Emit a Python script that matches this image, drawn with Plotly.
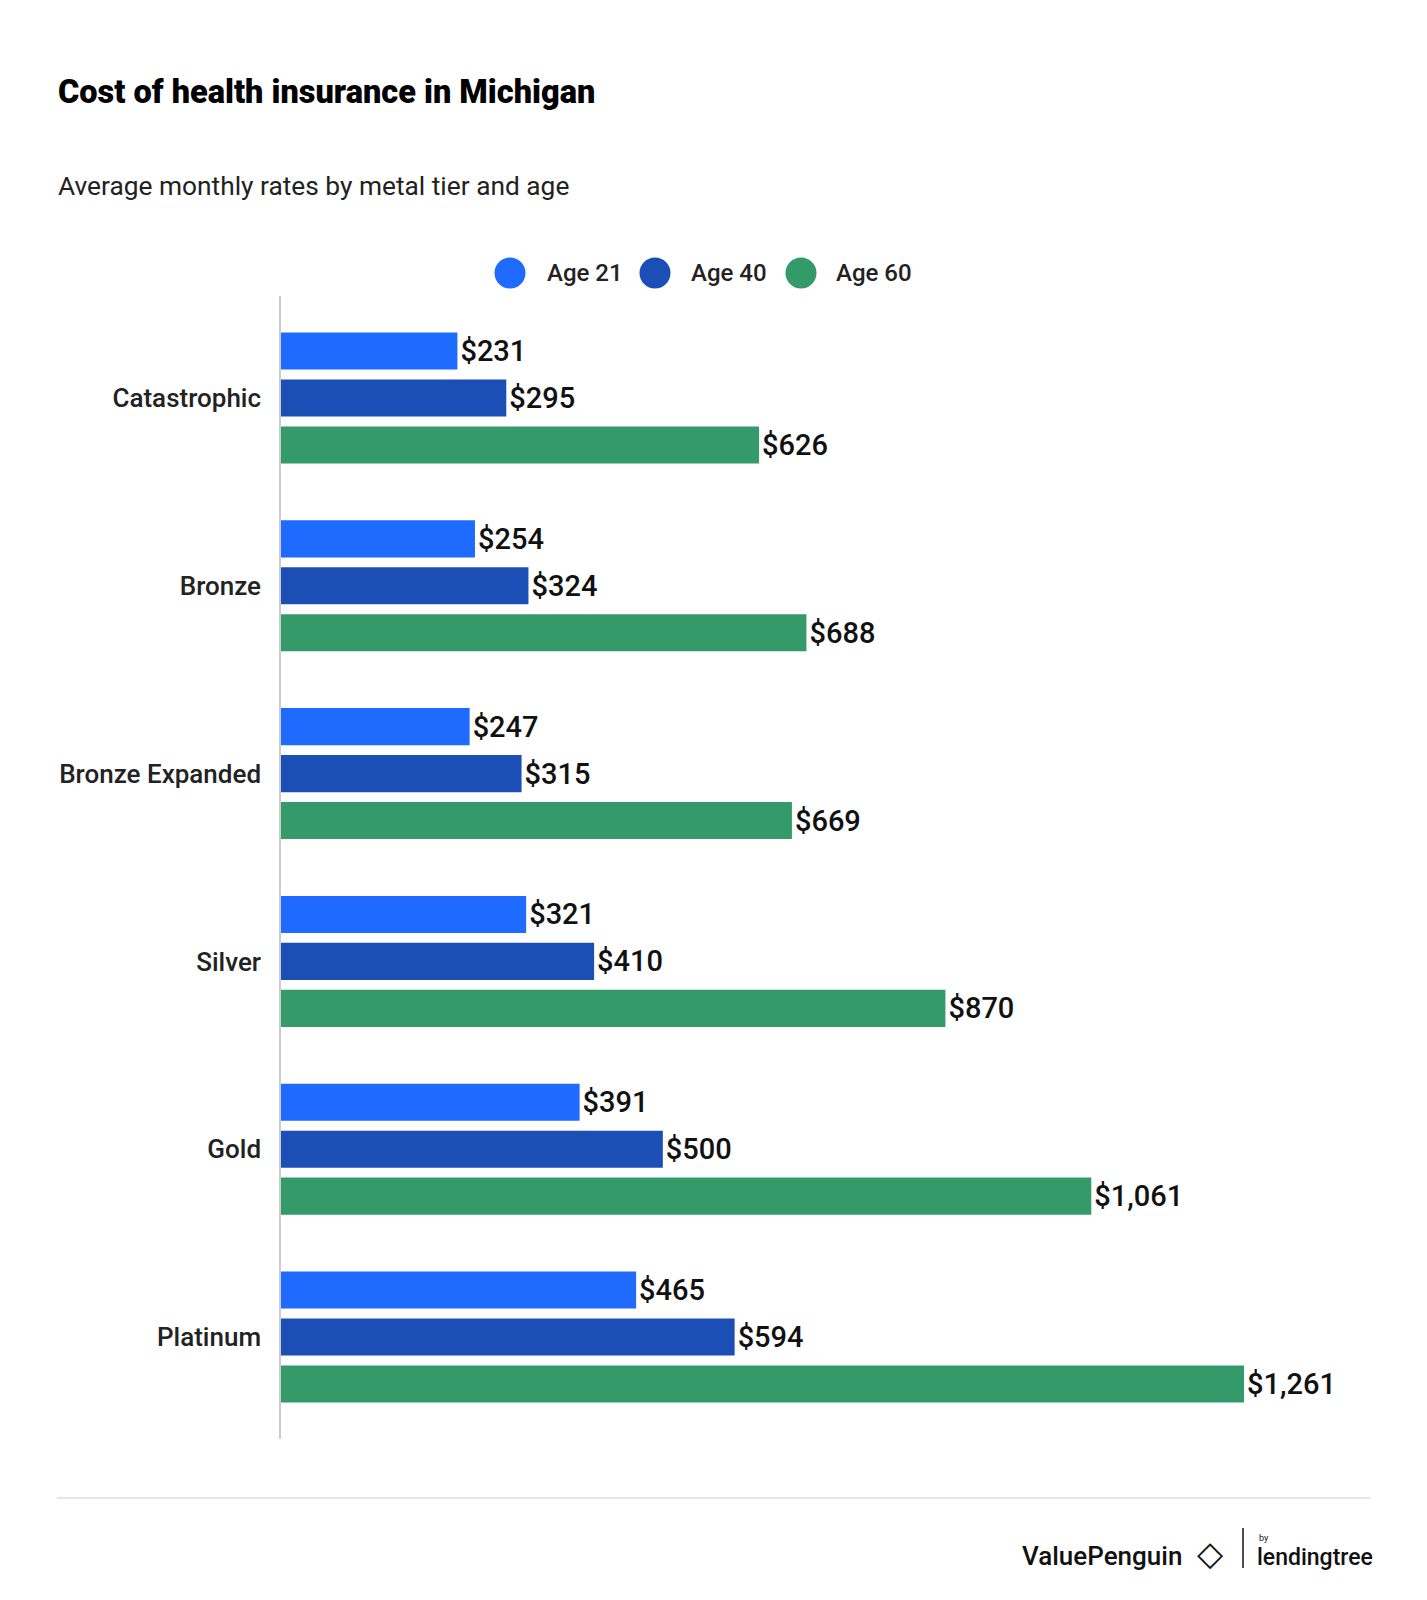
import plotly.graph_objects as go

categories = ["Catastrophic", "Bronze", "Bronze Expanded", "Silver", "Gold", "Platinum"]
series_names = ["Age 21", "Age 40", "Age 60"]
age21 = [231, 254, 247, 321, 391, 465]
age40 = [295, 324, 315, 410, 500, 594]
age60 = [626, 688, 669, 870, 1061, 1261]
colors = ["#1F6BFF", "#1B4FB5", "#359A69"]

OFF = 8  # default page body margin
FIG_W, FIG_H = 1427, 1600
L, T = 281 - OFF, 296 - OFF
W, H = 1069, 1143
R = FIG_W - L - W
B = FIG_H - T - H


def px(x):
    return (x - OFF - L) / W


def py(y):
    return 1 - (y - OFF - T) / H


fig = go.Figure()
for name, vals, col in zip(series_names, [age21, age40, age60], colors):
    fig.add_trace(go.Bar(
        y=categories, x=vals, orientation="h", name=name,
        marker=dict(color=col, line=dict(width=0)),
        text=[f"${v:,}" for v in vals], textposition="outside",
        constraintext="none", cliponaxis=False,
        textfont=dict(family="Roboto", size=29, color="#111111", weight=500),
        showlegend=False, hoverinfo="skip",
    ))

shapes = []
annotations = []

# Legend (manual, circular markers)
legend_items = [(510, 545), (655, 689), (801, 834)]
for (cx, tx), name, col in zip(legend_items, series_names, colors):
    r = 15.5
    shapes.append(dict(type="circle", xref="paper", yref="paper",
                       x0=px(cx - r), x1=px(cx + r), y0=py(273 + r), y1=py(273 - r),
                       fillcolor=col, line=dict(width=0)))
    annotations.append(dict(text=name, xref="paper", yref="paper", x=px(tx), y=py(273),
                            xanchor="left", yanchor="middle", showarrow=False,
                            font=dict(family="Roboto", size=24, color="#222222", weight=500)))

# Title and subtitle
annotations.append(dict(text="Cost of health insurance in Michigan", xref="paper", yref="paper",
                        x=px(56), y=py(92), xanchor="left", yanchor="middle", showarrow=False,
                        font=dict(family="Roboto", size=32.5, color="#000000", weight=900)))
annotations.append(dict(text="Average monthly rates by metal tier and age", xref="paper", yref="paper",
                        x=px(56), y=py(186), xanchor="left", yanchor="middle", showarrow=False,
                        font=dict(family="Roboto", size=26.3, color="#222222")))

# Footer
shapes.append(dict(type="line", xref="paper", yref="paper", x0=px(57), x1=px(1370),
                   y0=py(1498), y1=py(1498), line=dict(color="#dddddd", width=1.5)))
annotations.append(dict(text="ValuePenguin", xref="paper", yref="paper", x=px(1184), y=py(1556),
                        xanchor="right", yanchor="middle", showarrow=False,
                        font=dict(family="Roboto", size=26, color="#111111", weight=500)))
annotations.append(dict(text="◇", xref="paper", yref="paper", x=px(1210), y=py(1553),
                        xanchor="center", yanchor="middle", showarrow=False,
                        font=dict(family="DejaVu Sans", size=34, color="#111111")))
shapes.append(dict(type="line", xref="paper", yref="paper", x0=px(1243), x1=px(1243),
                   y0=py(1528), y1=py(1568), line=dict(color="#111111", width=1.5)))
annotations.append(dict(text="by", xref="paper", yref="paper", x=px(1257), y=py(1538),
                        xanchor="left", yanchor="middle", showarrow=False,
                        font=dict(family="Roboto", size=9, color="#111111")))
annotations.append(dict(text="lendingtree", xref="paper", yref="paper", x=px(1255), y=py(1557),
                        xanchor="left", yanchor="middle", showarrow=False,
                        font=dict(family="Roboto", size=23, color="#111111", weight=500)))

fig.update_layout(
    width=FIG_W, height=FIG_H,
    margin=dict(l=L, r=R, t=T, b=B, pad=0),
    paper_bgcolor="white", plot_bgcolor="white",
    barmode="group", bargap=0.25, bargroupgap=0.21,
    showlegend=False,
    shapes=shapes, annotations=annotations,
    xaxis=dict(range=[0, W / 0.7637], showgrid=False, zeroline=False, showticklabels=False,
               showline=False, ticks=""),
    yaxis=dict(type="category", categoryorder="array", categoryarray=categories,
               range=[5.543, -0.543], showgrid=False, zeroline=False, ticks="",
               showline=True, linecolor="#cccccc", linewidth=1.5,
               ticklabelstandoff=13,
               tickfont=dict(family="Roboto", size=26, color="#222222", weight=500)),
    font=dict(family="Roboto"),
)

fig.write_html("out.html")
